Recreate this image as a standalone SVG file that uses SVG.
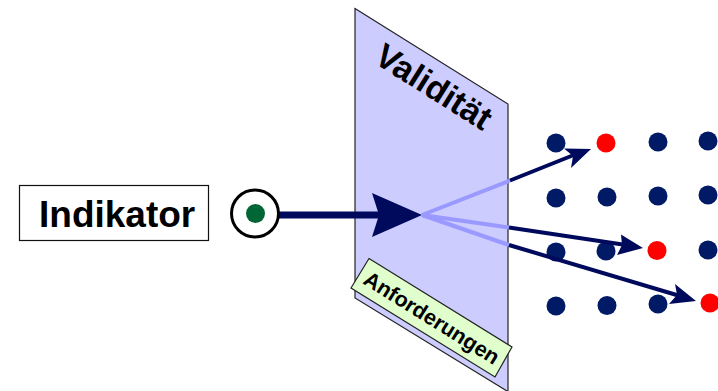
<svg xmlns="http://www.w3.org/2000/svg" width="718" height="391" viewBox="0 0 718 391">
<style>
text{font-family:"Liberation Sans",Arial,sans-serif;font-weight:bold;fill:#000}
.d{fill:#001a66}.r{fill:#ff0000}
.a{fill:#000a5c}.ls{stroke:#000a5c;fill:none}.ll{stroke:#9999ff;fill:none}
</style>
<rect width="718" height="391" fill="#fff"/>
<g id="panel">
<path d="M355 8.500L508 104V391H507L355 298Z" fill="#ccccff" stroke="#222" stroke-width="1.200"/>
<text transform="translate(372.500 62) rotate(32.100)" font-size="34">Validität</text>
</g>
<g id="anforderungen">
<path d="M369 258.500L512 347L495 377L351 288Z" fill="#e0ffcc" stroke="#222" stroke-width="1.200"/>
<text transform="translate(362 283) rotate(32)" font-size="21.500">Anforderungen</text>
</g>
<g id="indikator">
<rect x="19.500" y="185.500" width="189" height="55" fill="#fff" stroke="#111" stroke-width="1.200"/>
<text x="39" y="227" font-size="37">Indikator</text>
</g>
<g id="dots">
<circle class="d" cx="556" cy="143" r="9.500"/><circle class="r" cx="606" cy="143" r="9.500"/><circle class="d" cx="658" cy="142" r="9.500"/><circle class="d" cx="708" cy="141" r="9.500"/>
<circle class="d" cx="556" cy="198" r="9.500"/><circle class="d" cx="607" cy="197" r="9.500"/><circle class="d" cx="658" cy="196" r="9.500"/><circle class="d" cx="708" cy="195" r="9.500"/>
<circle class="d" cx="556" cy="252" r="9.500"/><circle class="d" cx="606" cy="251" r="9.500"/><circle class="r" cx="657" cy="250.500" r="9.500"/><circle class="d" cx="708" cy="250" r="9.500"/>
<circle class="d" cx="556" cy="306" r="9.500"/><circle class="d" cx="607" cy="305.500" r="9.500"/><circle class="d" cx="658" cy="304" r="9.500"/><circle class="r" cx="710" cy="303" r="9.500"/>
</g>
<g id="connectors">
<path class="ls" stroke-width="7" d="M278 215H385"/>
<path class="a" d="M422 215L372 193L379 215L372 237Z"/>
<path class="ll" stroke-width="4" d="M422 215L510 180.500"/>
<path class="ll" stroke-width="4" d="M422 215L509 227.500"/>
<path class="ll" stroke-width="4" d="M422 215L509 245"/>
<path class="ls" stroke-width="4" d="M510 180.500L575 154.500"/>
<path class="a" d="M591 149L564 148.500L573 156L571 168Z"/>
<path class="ls" stroke-width="4" d="M509 227.500L626 245"/>
<path class="a" d="M643 248L621 234.500L622 245L617 255Z"/>
<path class="ls" stroke-width="4" d="M509 245L680 296"/>
<path class="a" d="M696 301L675 284L677 295L669 304Z"/>
</g>
<g id="indicator">
<circle cx="255" cy="213.500" r="23.500" fill="#fff" stroke="#000" stroke-width="3"/>
<circle cx="255.500" cy="213.500" r="9.500" fill="#006633"/>
</g>
</svg>
